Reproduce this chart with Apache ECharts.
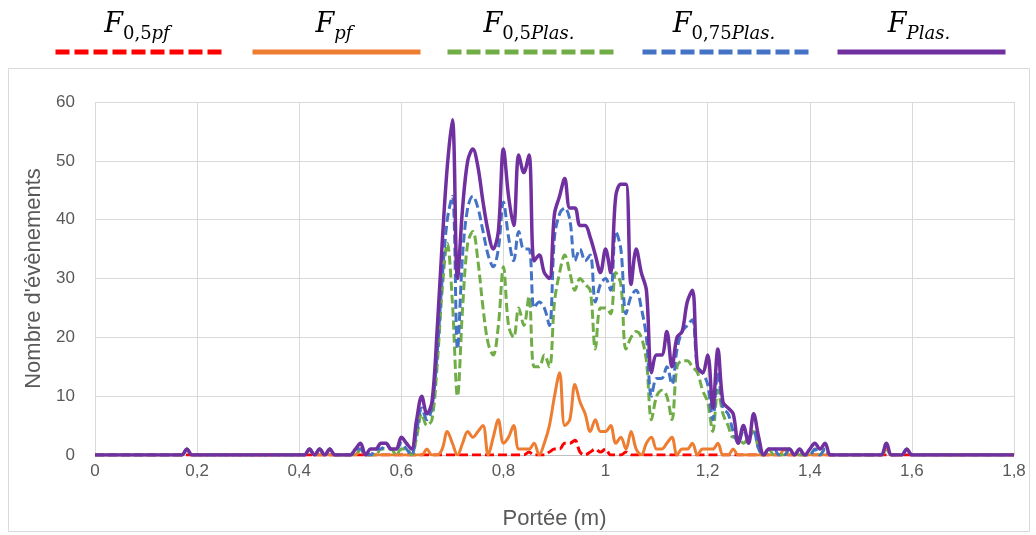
<!DOCTYPE html>
<html>
<head>
<meta charset="utf-8">
<script src="https://cdn.jsdelivr.net/npm/echarts@6/dist/echarts.min.js"></script>
<style>
html,body{margin:0;padding:0;background:#ffffff;}
#chart{width:1036px;height:535px;}
</style>
</head>
<body>
<div id="chart"></div>
<script>
// Portée (m): regular grid 0.00 .. 1.80, step 0.01
const portee = [];
for (let i = 0; i <= 180; i++) portee.push(+(i / 100).toFixed(2));

const xTickLabels = ['0', '0,2', '0,4', '0,6', '0,8', '1', '1,2', '1,4', '1,6', '1,8'];

const seriesNames = ['F0,5pf', 'Fpf', 'F0,5Plas.', 'F0,75Plas.', 'FPlas.'];

// F_0,5pf
const f05pf = [
  0,0,0,0,0,0,0,0,0,0,
  0,0,0,0,0,0,0,0,0,0,
  0,0,0,0,0,0,0,0,0,0,
  0,0,0,0,0,0,0,0,0,0,
  0,0,0,0,0,0,0,0,0,0,
  0,0,0,0,0,0,0,0,0,0,
  0,0,0,0,0,0,0,0,0,0,
  0,0,0,0,0,0,0,0,0,0,
  0,0,0,0,0,0.5,0,0,0,0.5,
  1,1,2,2,2.5,0.5,0,0.5,1,0.5,
  1,0,0,0,0.5,0,0,0,0,0,
  0,0,0,0,0,0,0,0,0,0,
  0,0,0,0,0,0,0,0,0,0,
  0,0,0,0,0,0,0,0,0,0,
  0,0,0,0,0,0,0,0,0,0,
  0,0,0,0,0,0,0,0,0,0,
  0,0,0,0,0,0,0,0,0,0,
  0,0,0,0,0,0,0,0,0,0,
  0
];

// F_pf
const fpf = [
  0,0,0,0,0,0,0,0,0,0,
  0,0,0,0,0,0,0,0,1,0,
  0,0,0,0,0,0,0,0,0,0,
  0,0,0,0,0,0,0,0,0,0,
  0,0,1,0,0,0,0,0,0,0,
  0,0,1,0,0,0,0,0,0,0,
  0,0,0,0,0,1,0,0,1,4,
  2,0,2,4,3,4,5,0,3,6,
  2,3,5,1,1,1,2,0,2,5,
  10,14,5,6,12,9,7,4,6,4,
  4,5,2,3,1,4,1,0,2,3,
  1,1,2,3,0,1,1,2,0,1,
  1,1,2,0,0,1,0,0,0,0,
  0,0,0,0,0,1,0,0,0,0,
  0,0,0,0,0,0,0,0,0,0,
  0,0,0,0,0,1,0,0,0,1,
  0,0,0,0,0,0,0,0,0,0,
  0,0,0,0,0,0,0,0,0,0,
  0
];

// F_0,5Plas.
const f05plas = [
  0,0,0,0,0,0,0,0,0,0,
  0,0,0,0,0,0,0,0,1,0,
  0,0,0,0,0,0,0,0,0,0,
  0,0,0,0,0,0,0,0,0,0,
  0,0,1,0,1,0,1,0,0,0,
  0,0,1,0,0,0,1,1,1,0,
  1,1,0,3,7,5,6,15,28,36,
  26,10,25,36,38,33,25,19,17,22,
  32,22,20,25,22,27,15,15,17,15,
  26,31,34,31,28,30,29,28,18,25,
  25,24,31,29,18,20,21,20,16,6,
  10,11,10,6,15,16,16,15,14,11,
  9,4,11,7,5,3,3,2,3,4,
  1,0,1,0,0,0,1,0,0,0,
  0,1,0,1,0,0,0,0,0,0,
  0,0,0,0,0,1,0,0,0,1,
  0,0,0,0,0,0,0,0,0,0,
  0,0,0,0,0,0,0,0,0,0,
  0
];

// F_0,75Plas.
const f075plas = [
  0,0,0,0,0,0,0,0,0,0,
  0,0,0,0,0,0,0,0,1,0,
  0,0,0,0,0,0,0,0,0,0,
  0,0,0,0,0,0,0,0,0,0,
  0,0,1,0,1,0,1,0,0,0,
  0,1,1,0,0,1,1,2,1,1,
  2,1,0,4,8,6,8,17,30,40,
  44,18,34,42,44,42,38,34,32,35,
  43,37,33,38,35,35,25,26,25,22,
  37,41,42,40,33,35,33,34,26,29,
  30,28,38,35,24,27,28,25,20,10,
  13,13,15,12,18,21,22,23,15,14,
  12,6,14,8,7,4,2,4,3,4,
  1,0,1,1,0,0,1,0,1,0,
  0,1,0,1,0,0,0,0,0,0,
  0,0,0,0,0,2,0,0,0,1,
  0,0,0,0,0,0,0,0,0,0,
  0,0,0,0,0,0,0,0,0,0,
  0
];

// F_Plas.
const fplas = [
  0,0,0,0,0,0,0,0,0,0,
  0,0,0,0,0,0,0,0,1,0,
  0,0,0,0,0,0,0,0,0,0,
  0,0,0,0,0,0,0,0,0,0,
  0,0,1,0,1,0,1,0,0,0,
  0,1,2,0,1,1,2,2,1,1,
  3,2,1,6,10,7,9,21,36,49,
  57,30,42,50,52,49,43,38,35,38,
  52,44,39,51,48,51,33,34,31,30,
  41,44,47,42,42,39,39,37,34,31,
  35,31,44,46,46,29,35,31,28,14,
  17,17,21,15,20,21,26,28,15,14,
  17,8,18,9,8,7,2,5,2,7,
  3,0,1,1,1,1,1,0,1,0,
  1,2,1,2,0,0,0,0,0,0,
  0,0,0,0,0,2,0,0,0,1,
  0,0,0,0,0,0,0,0,0,0,
  0,0,0,0,0,0,0,0,0,0,
  0
];

const colors = ['#FF0000', '#ED7D31', '#70AD47', '#4472C4', '#7030A0'];
const valueSets = [f05pf, fpf, f05plas, f075plas, fplas];
const widths = [3, 3, 3, 3, 3.5];
const dashes = [[9, 4], 'solid', [9, 4], [9, 4], 'solid'];

const legendLeft = [53, 250, 445, 640, 835];
const legendDash = [[14, 5], 'solid', [14, 5], [14, 5], 'solid'];
const legendRich = [
  '{f|F}{d|0,5}{s|pf}',
  '{f|F}{s|pf}',
  '{f|F}{d|0,5}{s|Plas.}',
  '{f|F}{d|0,75}{s|Plas.}',
  '{f|F}{s|Plas.}'
];

const rich = {
  f: { fontFamily: 'DejaVu Serif', fontStyle: 'italic', fontSize: 27, lineHeight: 36, verticalAlign: 'middle', color: '#000' },
  d: { fontFamily: 'DejaVu Serif', fontSize: 18, lineHeight: 36, verticalAlign: 'bottom', color: '#000' },
  s: { fontFamily: 'DejaVu Serif', fontStyle: 'italic', fontSize: 18, lineHeight: 36, verticalAlign: 'bottom', color: '#000' }
};

const chart = echarts.init(document.getElementById('chart'), null, { renderer: 'canvas' });

const series = seriesNames.map((name, k) => ({
  name: name,
  type: 'line',
  data: portee.map((x, i) => [x, valueSets[k][i]]),
  smooth: 0.35,
  symbol: 'none',
  z: 2 + k,
  lineStyle: { color: colors[k], width: widths[k], type: dashes[k] },
  itemStyle: { color: colors[k] }
}));

const legends = seriesNames.map((name, k) => ({
  data: [name],
  left: legendLeft[k],
  top: 46,
  itemWidth: 168,
  itemHeight: 12,
  padding: 0,
  itemGap: 0,
  selectedMode: false,
  formatter: () => '',
  itemStyle: { opacity: 0, borderWidth: 0 },
  lineStyle: { width: 5, type: legendDash[k], color: colors[k] },
  textStyle: { fontSize: 1 }
}));

const graphics = [{
  type: 'rect',
  shape: { x: 8.5, y: 68.5, width: 1021, height: 463 },
  style: { fill: 'none', stroke: '#d9d9d9', lineWidth: 1 },
  silent: true,
  z: 0
}].concat(legendRich.map((t, k) => ({
  type: 'text',
  x: legendLeft[k] + 84,
  y: 7,
  style: { text: t, rich: rich, align: 'center', verticalAlign: 'top', textAlign: 'center', textVerticalAlign: 'top' },
  silent: true
})));

chart.setOption({
  animation: false,
  backgroundColor: '#ffffff',
  grid: { left: 95, right: 22, top: 102, bottom: 79, containLabel: false },
  legend: legends,
  graphic: graphics,
  xAxis: {
    type: 'value',
    min: 0,
    max: 1.8,
    interval: 0.2,
    name: 'Portée (m)',
    nameLocation: 'middle',
    nameGap: 53,
    nameTextStyle: { fontFamily: 'Liberation Sans', fontSize: 22, color: '#595959' },
    axisLine: { show: true, lineStyle: { color: '#bfbfbf', width: 1 } },
    axisTick: { show: false },
    axisLabel: {
      margin: 8,
      fontFamily: 'Liberation Sans',
      fontSize: 17,
      color: '#595959',
      formatter: (v) => xTickLabels[Math.round(v / 0.2)]
    },
    splitLine: { show: true, lineStyle: { color: '#d9d9d9', width: 1 } }
  },
  yAxis: {
    type: 'value',
    min: 0,
    max: 60,
    interval: 10,
    name: "Nombre d'évènements",
    nameLocation: 'middle',
    nameGap: 50,
    nameTextStyle: { fontFamily: 'Liberation Sans', fontSize: 22, color: '#595959' },
    axisLine: { show: false },
    axisTick: { show: false },
    axisLabel: { margin: 20, fontFamily: 'Liberation Sans', fontSize: 17, color: '#595959' },
    splitLine: { show: true, lineStyle: { color: '#d9d9d9', width: 1 } }
  },
  series: series
});
</script>
</body>
</html>
